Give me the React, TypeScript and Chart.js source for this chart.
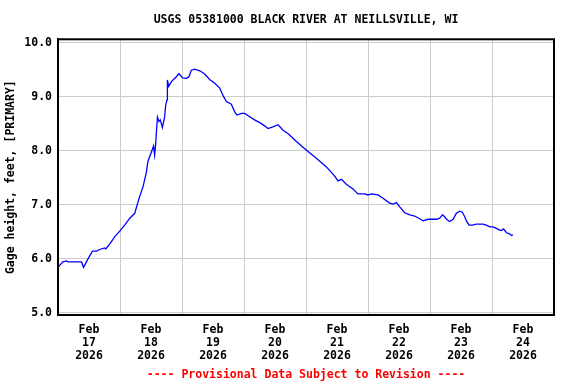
import React, { useEffect, useRef } from 'react';
import { Chart, registerables } from 'chart.js';

Chart.register(...registerables);

// Hours since Feb 17 2026 00:00
const hours = [
  0.15, 1.9, 3.2, 3.9, 9.1, 9.9, 11.2, 13.3, 14.9, 16.1, 18.1, 18.5, 20.0, 22.0, 23.9,
  25.8, 27.8, 29.7, 30.6, 31.6, 32.9, 34.2, 34.8, 36.2, 37.0, 37.4, 37.8, 38.1, 38.5,
  39.1, 39.6, 40.4, 41.3, 41.7, 42.2, 42.35, 42.85, 43.9, 45.8, 46.8, 48.2, 49.7, 50.7,
  51.6, 52.9, 54.9, 56.8, 58.7, 60.7, 62.6, 64.1, 65.2, 67.1, 68.4, 69.3, 71.0, 72.3,
  74.2, 76.1, 78.1, 80.0, 81.3, 83.2, 85.2, 87.1, 89.0, 92.3, 96.2, 100.0, 103.9, 107.1,
  108.4, 109.7, 111.6, 114.2, 116.1, 118.7, 120.0, 121.3, 123.9, 125.8, 128.4, 129.7,
  131.0, 132.3, 134.2, 136.2, 138.1, 140.0, 141.3, 143.2, 146.5, 147.8, 148.8, 149.4,
  150.4, 151.6, 152.9, 154.2, 155.5, 156.5, 157.4, 158.1, 159.1, 160.4, 161.9, 164.5,
  165.8, 167.1, 168.4, 169.7, 171.0, 171.6, 172.5, 173.6, 174.8, 175.5, 176.1,
];

const gageHeight = [
  5.85, 5.94, 5.96, 5.94, 5.94, 5.84, 5.96, 6.14, 6.14, 6.17, 6.20, 6.18, 6.27, 6.41, 6.51,
  6.62, 6.75, 6.84, 6.99, 7.15, 7.33, 7.60, 7.80, 7.98, 8.09, 7.92, 8.11, 8.35, 8.62,
  8.54, 8.57, 8.43, 8.63, 8.85, 8.94, 9.31, 9.19, 9.28, 9.37, 9.43, 9.35, 9.34, 9.37,
  9.49, 9.51, 9.48, 9.42, 9.32, 9.25, 9.16, 9.00, 8.91, 8.86, 8.72, 8.66, 8.69, 8.69,
  8.63, 8.57, 8.52, 8.46, 8.41, 8.44, 8.48, 8.38, 8.32, 8.17, 8.01, 7.86, 7.70, 7.53,
  7.44, 7.47, 7.38, 7.29, 7.20, 7.20, 7.18, 7.20, 7.18, 7.12, 7.03, 7.01,
  7.04, 6.96, 6.85, 6.81, 6.79, 6.74, 6.70, 6.73, 6.73, 6.75, 6.81, 6.79,
  6.73, 6.69, 6.73, 6.84, 6.88, 6.86, 6.78, 6.70, 6.62, 6.62, 6.64, 6.64,
  6.62, 6.59, 6.59, 6.56, 6.53, 6.52, 6.55, 6.48, 6.46, 6.43, 6.44,
];

const monthLabel = 'Feb';
const yearLabel = '2026';
const dayLabels = ['17', '18', '19', '20', '21', '22', '23', '24'];
const yTickValues = [5, 6, 7, 8, 9, 10];

const titleText = 'USGS 05381000 BLACK RIVER AT NEILLSVILLE, WI';
const yAxisTitle = 'Gage height, feet, [PRIMARY]';
const footerText = '---- Provisional Data Subject to Revision ----';

const FONT = "'DejaVu Sans Mono', 'Liberation Mono', monospace";

const framePlugin = {
  id: 'frame',
  afterDatasetsDraw(chart: any) {
    const { ctx, chartArea: a } = chart;
    ctx.save();
    ctx.strokeStyle = '#000';
    ctx.lineWidth = 2;
    ctx.strokeRect(a.left, a.top, a.right - a.left, a.bottom - a.top);
    ctx.restore();
  },
};

export default function App() {
  const canvasRef = useRef<HTMLCanvasElement | null>(null);

  useEffect(() => {
    if (!canvasRef.current) return;
    const xTickValues: number[] = [];
    dayLabels.forEach((_, i) => {
      xTickValues.push(12 + 24 * i);
      if (i < dayLabels.length - 1) xTickValues.push(24 * (i + 1));
    });

    const chart = new Chart(canvasRef.current, {
      type: 'line',
      data: {
        datasets: [
          {
            data: hours.map((h, i) => ({ x: h, y: gageHeight[i] })),
            borderColor: '#0000ff',
            borderWidth: 1.3,
            pointRadius: 0,
            tension: 0,
            fill: false,
          },
        ],
      },
      options: {
        animation: false,
        responsive: false,
        devicePixelRatio: 1,
        layout: { padding: { left: 0, right: 22, top: 0, bottom: 0 } },
        plugins: {
          legend: { display: false },
          tooltip: { enabled: false },
          title: {
            display: true,
            text: titleText,
            color: '#000',
            fullSize: false,
            font: { family: FONT, size: 11.5, weight: 'bold', lineHeight: 1.2 },
            padding: { top: 13.5, bottom: 12 },
          },
          subtitle: {
            display: true,
            text: footerText,
            position: 'bottom',
            color: '#ff0000',
            fullSize: false,
            font: { family: FONT, size: 11.5, weight: 'bold', lineHeight: 1.2 },
            padding: { top: 5.8, bottom: 2.4 },
          },
        },
        scales: {
          x: {
            type: 'linear',
            min: 0,
            max: 192,
            afterBuildTicks: (scale: any) => {
              scale.ticks = xTickValues.map((v) => ({ value: v }));
            },
            afterFit: (scale: any) => {
              scale.height = 47;
            },
            grid: {
              drawTicks: false,
              color: (ctx: any) =>
                ctx.tick && ctx.tick.value % 24 === 0 ? '#cccccc' : 'rgba(0,0,0,0)',
              lineWidth: 1,
            },
            border: { color: '#000', width: 2 },
            ticks: {
              autoSkip: false,
              maxRotation: 0,
              minRotation: 0,
              padding: 8.6,
              color: '#000',
              font: { family: FONT, size: 11.5, weight: 'bold', lineHeight: 1.113 },
              callback: (value: any) => {
                const v = Number(value);
                if (v % 24 === 12) {
                  return [monthLabel, dayLabels[(v - 12) / 24], yearLabel];
                }
                return '';
              },
            },
          },
          y: {
            type: 'linear',
            min: 4.957,
            max: 10.063,
            afterBuildTicks: (scale: any) => {
              scale.ticks = yTickValues.map((v) => ({ value: v }));
            },
            afterFit: (scale: any) => {
              scale.width = 58;
            },
            grid: { drawTicks: false, color: '#cccccc', lineWidth: 1 },
            border: { color: '#000', width: 2 },
            ticks: {
              padding: 6,
              color: '#000',
              font: { family: FONT, size: 11.5, weight: 'bold' },
              callback: (value: any) => Number(value).toFixed(1),
            },
            title: {
              display: true,
              text: yAxisTitle,
              color: '#000',
              font: { family: FONT, size: 11.5, weight: 'bold', lineHeight: 1.2 },
              padding: { top: 4, bottom: 0 },
            },
          },
        },
      },
      plugins: [framePlugin],
    } as any);

    return () => chart.destroy();
  }, []);

  return (
    <div style={{ position: 'fixed', left: 0, top: 0, width: 576, height: 384, background: '#fff' }}>
      <canvas ref={canvasRef} width={576} height={384} style={{ width: 576, height: 384 }} />
    </div>
  );
}
